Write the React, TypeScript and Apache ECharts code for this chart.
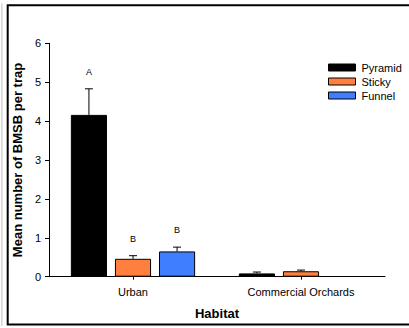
import React, { useEffect, useRef } from "react";
import * as echarts from "echarts";

// Habitats on the x axis
const categories: string[] = ["Urban", "Commercial Orchards"];
const seriesNames: string[] = ["Pyramid", "Sticky", "Funnel"];

// Mean BMSB per trap
const pyramid: (number | null)[] = [4.16, 0.085];
const sticky: (number | null)[] = [0.46, 0.14];
const funnel: (number | null)[] = [0.65, null];

// Standard errors (upper whisker only)
const pyramidErr: (number | null)[] = [0.67, 0.035];
const stickyErr: (number | null)[] = [0.08, 0.03];
const funnelErr: (number | null)[] = [0.11, null];

// Significance letters over each bar ("" = none)
const pyramidLetters: string[] = ["A", ""];
const stickyLetters: string[] = ["B", ""];
const funnelLetters: string[] = ["B", ""];

const yTicks: number[] = [0, 1, 2, 3, 4, 5, 6];

const colors = ["#000000", "#ff7f3f", "#3f7fff"];
const FONT = "'Liberation Sans', Arial, sans-serif";

const BAR_FRAC = 0.215; // bar width as share of the category band
const BAR_GAP = 0.22; // gap between bars as share of bar width

export default function App() {
  const ref = useRef<HTMLDivElement>(null);

  useEffect(() => {
    if (!ref.current) return;
    const chart = echarts.init(ref.current, undefined, { renderer: "svg" });

    const values = [pyramid, sticky, funnel];
    const errs = [pyramidErr, stickyErr, funnelErr];
    const letters = [pyramidLetters, stickyLetters, funnelLetters];

    // rows: [categoryIndex, mean, err, seriesIndex]
    const errRows: number[][] = [];
    const errLetters: string[] = [];
    values.forEach((vals, si) => {
      vals.forEach((v, ci) => {
        const e = errs[si][ci];
        if (v == null || e == null) return;
        errRows.push([ci, v, e, si]);
        errLetters.push(letters[si][ci]);
      });
    });

    const barSeries = seriesNames.map((name, si) => ({
      name,
      type: "bar",
      data: values[si].map((v) => (v == null ? "-" : v)),
      barWidth: `${BAR_FRAC * 100}%`,
      barGap: `${BAR_GAP * 100}%`,
      itemStyle: { color: colors[si], borderColor: "#000", borderWidth: 1 },
      z: 2,
    }));

    chart.setOption({
      animation: false,
      backgroundColor: "#fff",
      textStyle: { fontFamily: FONT },
      graphic: [
        {
          type: "line",
          shape: { x1: 1.8, y1: 3.5, x2: 1.8, y2: 326 },
          style: { stroke: "#d4d4d4", lineWidth: 1.5 },
          silent: true,
        },
        {
          type: "rect",
          shape: { x: 7.7, y: 5.2, width: 420, height: 319.3 },
          style: { fill: "none", stroke: "#000", lineWidth: 2 },
          silent: true,
        },
      ],
      grid: { left: 49, right: 24, top: 43.3, bottom: 51.3, containLabel: false },
      legend: {
        data: seriesNames,
        orient: "vertical",
        left: 323,
        top: 57,
        icon: "rect",
        itemWidth: 27,
        itemHeight: 7,
        itemGap: 3,
        itemStyle: { borderColor: "#000", borderWidth: 1 },
        textStyle: { fontFamily: FONT, fontSize: 11, color: "#000", padding: [0, 0, 0, 1] },
        selectedMode: false,
      },
      xAxis: {
        type: "category",
        data: categories,
        name: "Habitat",
        nameLocation: "middle",
        nameGap: 30,
        nameTextStyle: { fontFamily: FONT, fontSize: 13, fontWeight: "bold", color: "#000" },
        axisLine: { lineStyle: { color: "#000", width: 1 } },
        axisTick: { show: true, alignWithLabel: true, length: 3, lineStyle: { color: "#000" } },
        axisLabel: { fontFamily: FONT, fontSize: 11, color: "#000", margin: 10 },
      },
      yAxis: {
        type: "value",
        min: yTicks[0],
        max: yTicks[yTicks.length - 1],
        interval: 1,
        name: "Mean number of BMSB per trap",
        nameLocation: "middle",
        nameGap: 24,
        nameTextStyle: { fontFamily: FONT, fontSize: 13, fontWeight: "bold", color: "#000" },
        axisLine: { show: true, lineStyle: { color: "#000", width: 1 } },
        axisTick: { show: true, length: 4, lineStyle: { color: "#000" } },
        axisLabel: { fontFamily: FONT, fontSize: 11, color: "#000", margin: 8 },
        splitLine: { show: false },
      },
      series: [
        ...barSeries,
        {
          type: "custom",
          name: "errors",
          data: errRows,
          z: 3,
          silent: true,
          encode: { x: 0, y: 1 },
          renderItem: (params: any, api: any) => {
            const ci = api.value(0);
            const v = api.value(1);
            const e = api.value(2);
            const si = api.value(3);
            const band = api.size([1, 0])[0];
            const bw = band * BAR_FRAC;
            const step = bw * (1 + BAR_GAP);
            const cx = api.coord([ci, 0])[0] + (si - 1) * step;
            const yTop = api.coord([ci, v])[1];
            const yErr = api.coord([ci, v + e])[1];
            const lineStyle = { stroke: "#000", lineWidth: 1 };
            const children: any[] = [
              { type: "line", shape: { x1: cx, y1: yTop, x2: cx, y2: yErr }, style: lineStyle },
              { type: "line", shape: { x1: cx - 4, y1: yErr, x2: cx + 4, y2: yErr }, style: lineStyle },
            ];
            const letter = errLetters[params.dataIndex];
            if (letter) {
              children.push({
                type: "text",
                x: cx,
                y: yErr - 17,
                style: {
                  text: letter,
                  fill: "#000",
                  font: `9px ${FONT}`,
                  align: "center",
                  verticalAlign: "middle",
                },
              });
            }
            return { type: "group", children };
          },
        },
      ],
    });

    return () => chart.dispose();
  }, []);

  return (
    <div
      ref={ref}
      style={{ position: "fixed", left: 0, top: 0, width: 409, height: 328 }}
    />
  );
}
